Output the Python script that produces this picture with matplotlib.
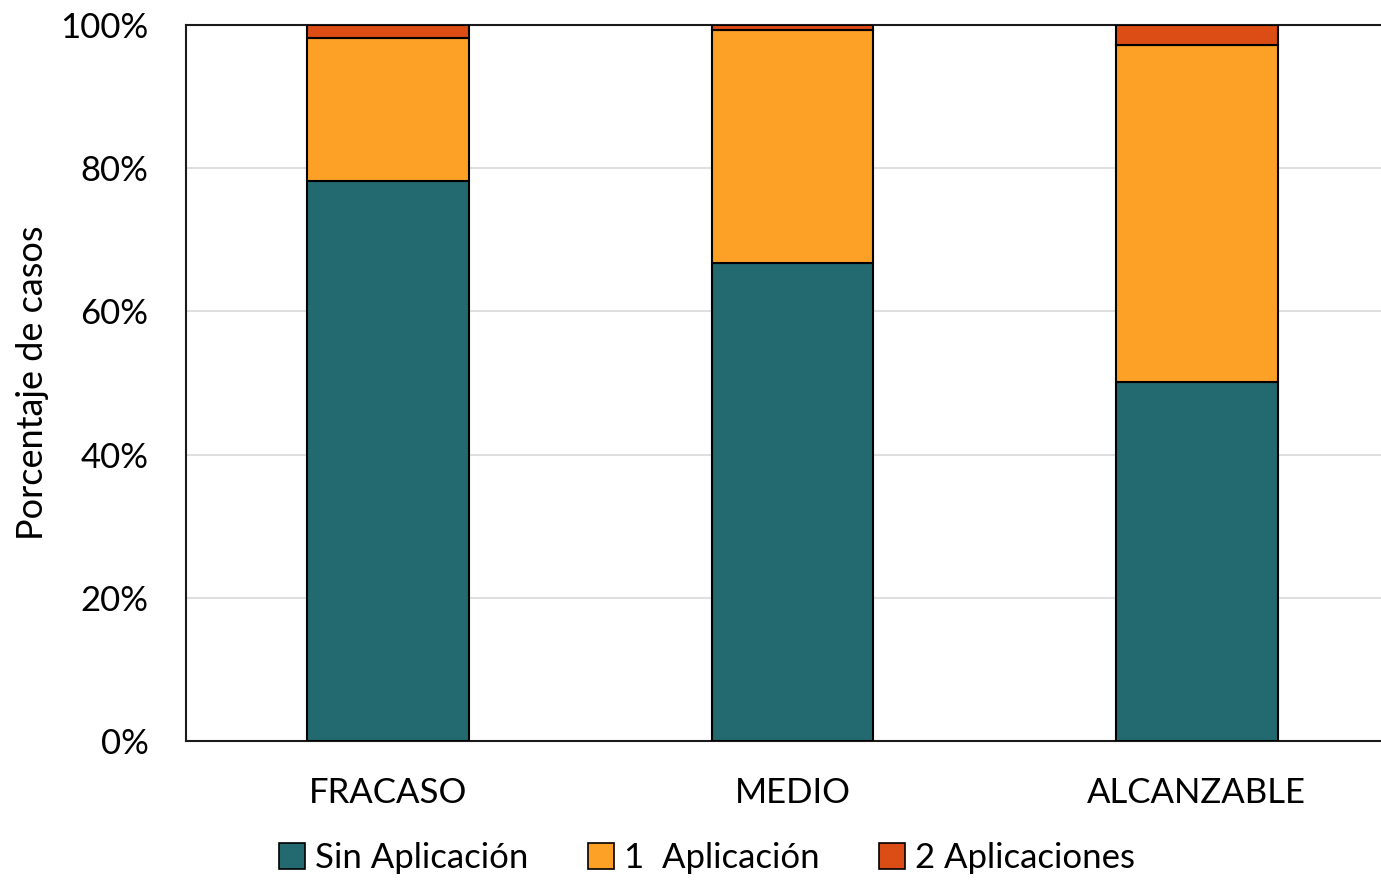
import matplotlib.pyplot as plt
from matplotlib.patches import Patch

plt.rcParams["font.family"] = ["Lato", "DejaVu Sans"]

categorias = ["FRACASO", "MEDIO", "ALCANZABLE"]
sin_aplicacion = [78.2, 66.8, 50.2]
una_aplicacion = [20.0, 32.5, 47.0]
dos_aplicaciones = [1.8, 0.7, 2.8]

colores = ["#236970", "#FCA026", "#DC4C15"]
nombres = ["Sin Aplicación", "1  Aplicación", "2 Aplicaciones"]

fig = plt.figure(figsize=(13.81, 8.8), dpi=100)
ax = fig.add_axes([186 / 1381, 139 / 880, 1213 / 1381, 716 / 880])

x = range(len(categorias))
base = [0] * len(categorias)
for serie, color in zip([sin_aplicacion, una_aplicacion, dos_aplicaciones], colores):
    ax.bar(x, serie, 0.4, bottom=base, color=color, edgecolor="black",
           linewidth=1.5, zorder=3)
    base = [b + v for b, v in zip(base, serie)]

ax.set_xlim(-0.5, 2.5)
ax.set_ylim(0, 100)
ax.set_yticks([0, 20, 40, 60, 80, 100])
ax.set_yticklabels([f"{v}%" for v in [0, 20, 40, 60, 80, 100]])
ax.set_xticks(list(x))
ax.set_xticklabels(categorias)
ax.tick_params(axis="both", length=0, labelsize=25)
ax.tick_params(axis="y", pad=27)
ax.tick_params(axis="x", pad=26)
ax.yaxis.grid(True, color="#d9d9d9", linewidth=1.2, zorder=0)
for lado in ["top", "left", "bottom", "right"]:
    ax.spines[lado].set_linewidth(1.5)
    ax.spines[lado].set_color("#1a1a1a")
ax.set_ylabel("Porcentaje de casos", fontsize=26)
ax.yaxis.set_label_coords(-0.113, 0.5)

handles = [Patch(facecolor=c, edgecolor="black", linewidth=1.2) for c in colores]
fig.legend(handles, nombres, loc="center", bbox_to_anchor=(707 / 1381, 1 - 858 / 880),
           ncol=3, frameon=False, fontsize=25, handlelength=0.75, handleheight=0.75,
           handletextpad=0.3, columnspacing=1.7)

fig.savefig("out.png", dpi=100)
